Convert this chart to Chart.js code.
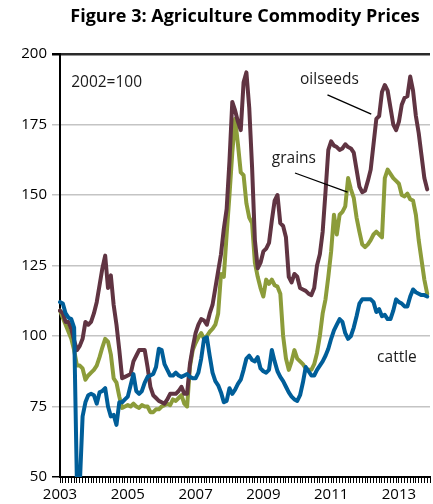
<!DOCTYPE html>
<html>
<head>
<meta charset="utf-8">
<script src="https://cdn.jsdelivr.net/npm/chart.js@4.4.0/dist/chart.umd.min.js"></script>
<style>
  html, body { margin: 0; padding: 0; background: #fff; }
</style>
</head>
<body>
<canvas id="line-chart" width="433" height="504"></canvas>
<script>
// 月份类别: 2003-01 起, 每月一个
const startYear = 2003;
const months = [];
for (let i = 0; i < 132; i++) {
    months.push(`${startYear + Math.floor(i / 12)}-${String(i % 12 + 1).padStart(2, '0')}`);
}

// 横轴年份标签 (每两年)
const yearTicks = ['2003', '2005', '2007', '2009', '2011', '2013'];
// 纵轴刻度
const yTicks = [50, 75, 100, 125, 150, 175, 200];

// 指数 (2002=100)
const oilseeds = [
    109, 108, 105, 105, 102.5, 98.5, 95, 96.5, 99, 105,
    104, 105, 108, 112, 118, 124, 128.5, 117, 121.5, 111,
    104, 95, 85, 85.5, 86, 86.5, 91, 93, 95, 95,
    95, 89, 82, 79, 78, 77, 76.5, 76, 77.5, 79.5,
    79.5, 79.5, 80.5, 82, 79.5, 79.5, 90, 96, 101, 104,
    106, 105.5, 104, 108, 111, 117, 123, 129, 138, 145,
    162, 183, 180, 176, 173, 190, 193.5, 181, 160, 134,
    124, 126, 130, 131, 133, 141, 148, 150, 140, 139,
    135, 121, 119, 122, 121, 117, 116.5, 116, 115, 114.5,
    117, 125, 129, 137, 151, 166, 169, 167.5, 167, 166,
    166.5, 168, 167, 166.5, 165, 159, 153, 151, 151.5, 155,
    159, 168, 177, 178, 186.5, 189, 187, 181, 175, 173,
    176, 182, 184.5, 185, 192, 187, 178, 172, 164, 156, 152
];

const grains = [
    109, 106.5, 104, 101.5, 99, 95, 89.5, 89.5, 88.5, 84.5,
    86, 87, 88, 89.5, 92.5, 96, 99, 98, 93.5, 85,
    83.5, 78.5, 74.5, 75, 75.5, 75, 76, 75, 74.5, 75.5,
    75, 75, 73, 73, 74, 74, 75, 75.5, 76, 75.5,
    77.5, 77, 78, 79, 76, 75, 89, 95, 97.5, 99.5,
    101, 99, 100, 101.5, 102.5, 104, 108, 122, 121, 136,
    150, 165, 177, 168, 158, 157, 147, 142, 140, 126,
    121, 117, 114, 120, 118.5, 120, 118, 117.5, 115, 100,
    92, 88, 91, 95, 92, 91, 90, 88.5, 88, 88,
    90, 94, 100, 108, 113, 121, 130, 143, 136, 143,
    144, 146, 156, 152, 149, 142, 137, 132.5, 131.5, 132.5,
    134, 136, 137, 136, 135, 156, 159, 157.5, 156, 155,
    154, 150, 149.5, 150.5, 148.5, 148, 143, 134, 127, 120, 115
];

const cattle = [
    112, 111.5, 108, 106.5, 106, 103, 47, 47, 71.5, 76.5,
    79, 79.5, 79, 76, 80, 80.5, 81.5, 75, 71.5, 72,
    68.5, 76.5, 76.5, 77.5, 78.5, 82.5, 86.5, 80.5, 79.5, 80.5,
    83.5, 85.5, 86, 86.5, 89, 95.5, 95, 90, 88, 86,
    86, 87, 86, 85.5, 86, 86.5, 85.5, 85, 85, 87,
    92, 99, 99.5, 93, 87, 84, 82.5, 80, 76.5, 77,
    81.5, 79.5, 81, 83, 84.5, 88, 92, 93, 91.5, 91,
    92.5, 88.5, 87.5, 87, 88, 95, 91, 87.5, 85.5, 84,
    82, 80, 78.5, 77.5, 77, 79, 83.5, 89, 87.5, 86,
    86, 88, 89.5, 91, 93, 95.5, 99, 102, 104, 106,
    105, 101, 99, 100, 103, 107, 111.5, 113, 113, 113,
    113, 112, 108.5, 109.5, 107, 107.5, 106, 106, 109, 113,
    112, 111.5, 110.5, 110.5, 114, 116.5, 115.5, 115, 114.5, 114.5, 114
];

const labelFont = { family: 'Open Sans', size: 15 };

// 标题与文字注释
const notesPlugin = {
    id: 'notes',
    afterDraw(chart) {
        const ctx = chart.ctx;
        const x = chart.scales.x;
        const y = chart.scales.y;
        ctx.save();
        ctx.fillStyle = '#000';
        ctx.textAlign = 'center';
        ctx.textBaseline = 'middle';
        ctx.font = 'bold 18px "Open Sans"';
        ctx.fillText('Figure 3: Agriculture Commodity Prices', 245, 17);

        ctx.font = '15.5px "Open Sans"';
        const notes = [
            ['2002=100', 16.5, 190],
            ['oilseeds', 95.4, 191],
            ['grains', 82.8, 163],
            ['cattle', 119.3, 92.5]
        ];
        notes.forEach(n => {
            ctx.fillStyle = '#1a1a1a';
            ctx.fillText(n[0], x.getPixelForValue(n[1]), y.getPixelForValue(n[2]));
        });

        // 引线
        ctx.strokeStyle = '#000';
        ctx.lineWidth = 1.3;
        [[94.7, 185.5, 110.2, 178.7], [83.2, 157.8, 101.8, 151]].forEach(l => {
            ctx.beginPath();
            ctx.moveTo(x.getPixelForValue(l[0]), y.getPixelForValue(l[1]));
            ctx.lineTo(x.getPixelForValue(l[2]), y.getPixelForValue(l[3]));
            ctx.stroke();
        });
        ctx.restore();
    }
};

function series(label, values, color, order) {
    return {
        label: label,
        data: values,
        borderColor: color,
        borderWidth: 4,
        tension: 0,
        pointRadius: 0,
        borderJoinStyle: 'round',
        borderCapStyle: 'round',
        fill: false,
        order: order
    };
}

const canvas = document.getElementById('line-chart');
window.lineChart = new Chart(canvas, {
    type: 'line',
    data: {
        labels: months,
        datasets: [
            series('cattle', cattle, '#005e99', 0),
            series('oilseeds', oilseeds, '#603442', 1),
            series('grains', grains, '#8c9c3a', 2)
        ]
    },
    options: {
        responsive: false,
        animation: false,
        layout: {
            padding: { top: 54, right: 0, bottom: 0, left: 0 }
        },
        plugins: {
            legend: { display: false },
            tooltip: { enabled: false },
            title: { display: false }
        },
        scales: {
            x: {
                type: 'category',
                offset: false,
                grid: {
                    display: true,
                    drawOnChartArea: false,
                    drawTicks: true,
                    tickLength: 6,
                    tickColor: '#000',
                    tickWidth: 1
                },
                border: { display: true, color: '#000', width: 2 },
                ticks: {
                    autoSkip: false,
                    maxRotation: 0,
                    padding: 3,
                    color: '#000',
                    font: labelFont,
                    callback: function (value, index) {
                        const m = months[index];
                        if (m && m.endsWith('-01') && yearTicks.includes(m.slice(0, 4))) {
                            return m.slice(0, 4);
                        }
                        return '';
                    }
                },
                afterFit: function (scale) {
                    scale.height = 27;
                }
            },
            y: {
                min: 50,
                max: 200,
                afterBuildTicks: function (axis) {
                    axis.ticks = yTicks.map(v => ({ value: v }));
                },
                grid: {
                    color: ctx => ctx.tick.value === 200 ? '#2a2a2a' : (ctx.tick.value === 50 ? 'rgba(0,0,0,0)' : '#c4c4c4'),
                    lineWidth: ctx => ctx.tick.value === 200 ? 2.5 : 1.5,
                    tickColor: ctx => ctx.tick.value === 200 || ctx.tick.value === 50 ? '#000' : '#c4c4c4',
                    tickLength: 8
                },
                border: { display: true, color: '#000', width: 2 },
                ticks: {
                    padding: 5,
                    color: '#000',
                    font: labelFont
                },
                afterFit: function (scale) {
                    scale.width = 60;
                }
            }
        }
    },
    plugins: [notesPlugin]
});
</script>
</body>
</html>
